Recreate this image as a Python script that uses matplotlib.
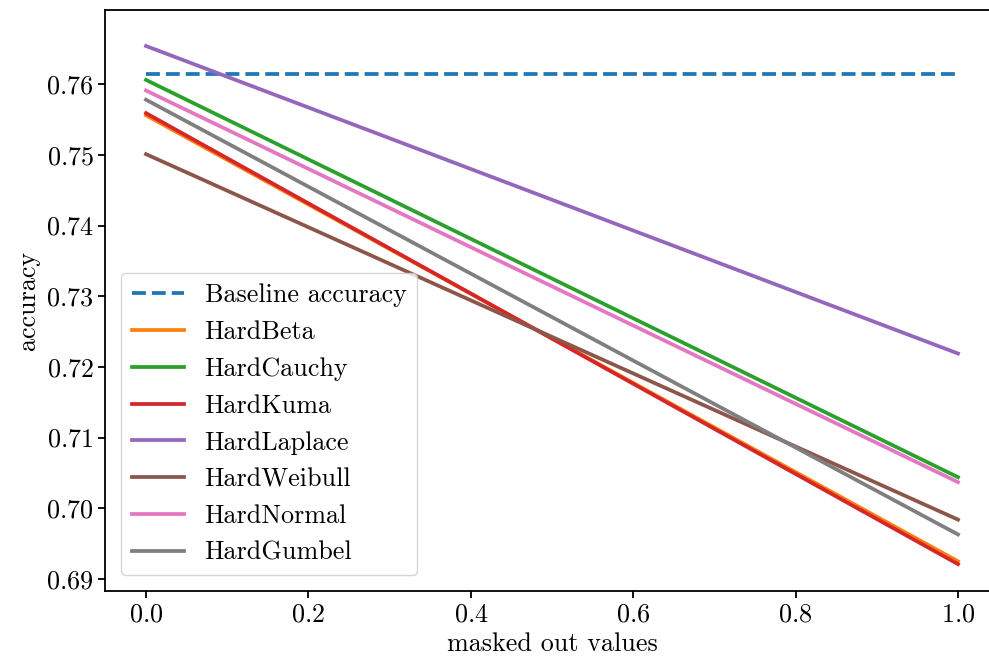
import numpy as np
import matplotlib
matplotlib.use("Agg")
import matplotlib.pyplot as plt

plt.rcParams.update({"font.family": "cmr10", "mathtext.fontset": "cm",
                     "axes.formatter.use_mathtext": True, "font.size": 18.8})

x = [0.0, 1.0]
baseline = [0.7615, 0.7615]
names = ["HardBeta", "HardCauchy", "HardKuma", "HardLaplace",
         "HardWeibull", "HardNormal", "HardGumbel"]
starts = [0.7556, 0.7606, 0.7559, 0.7654, 0.7501, 0.7591, 0.7578]
ends = [0.6925, 0.7044, 0.6921, 0.7219, 0.6984, 0.7037, 0.6963]
colors = ["#ff7f0e", "#2ca02c", "#d62728", "#9467bd", "#8c564b", "#e377c2", "#7f7f7f"]

fig, ax = plt.subplots(figsize=(9.89, 6.63), dpi=100)
ax.plot(x, baseline, "--", color="#1f77b4", lw=2.7, label="Baseline accuracy")
for n, s, e, c in zip(names, starts, ends, colors):
    ax.plot(x, [s, e], color=c, lw=2.7, label=n)

ax.set_xlabel("masked out values")
ax.set_ylabel("accuracy")
ax.set_xticks([0.0, 0.2, 0.4, 0.6, 0.8, 1.0])
ax.set_yticks([0.69, 0.70, 0.71, 0.72, 0.73, 0.74, 0.75, 0.76])
ax.set_xlim(-0.05, 1.05)
ax.set_ylim(0.6883, 0.7705)
for sp in ax.spines.values():
    sp.set_linewidth(1.3)
# the right edge of the axes is cut off in the original
ax.spines["right"].set_visible(False)
ax.tick_params(width=1.3, length=5)
ax.legend(loc="lower left", borderaxespad=0.6)
fig.subplots_adjust(left=0.1066, right=1.0097, top=0.985, bottom=0.1086)
fig.savefig("out.png", dpi=100)
